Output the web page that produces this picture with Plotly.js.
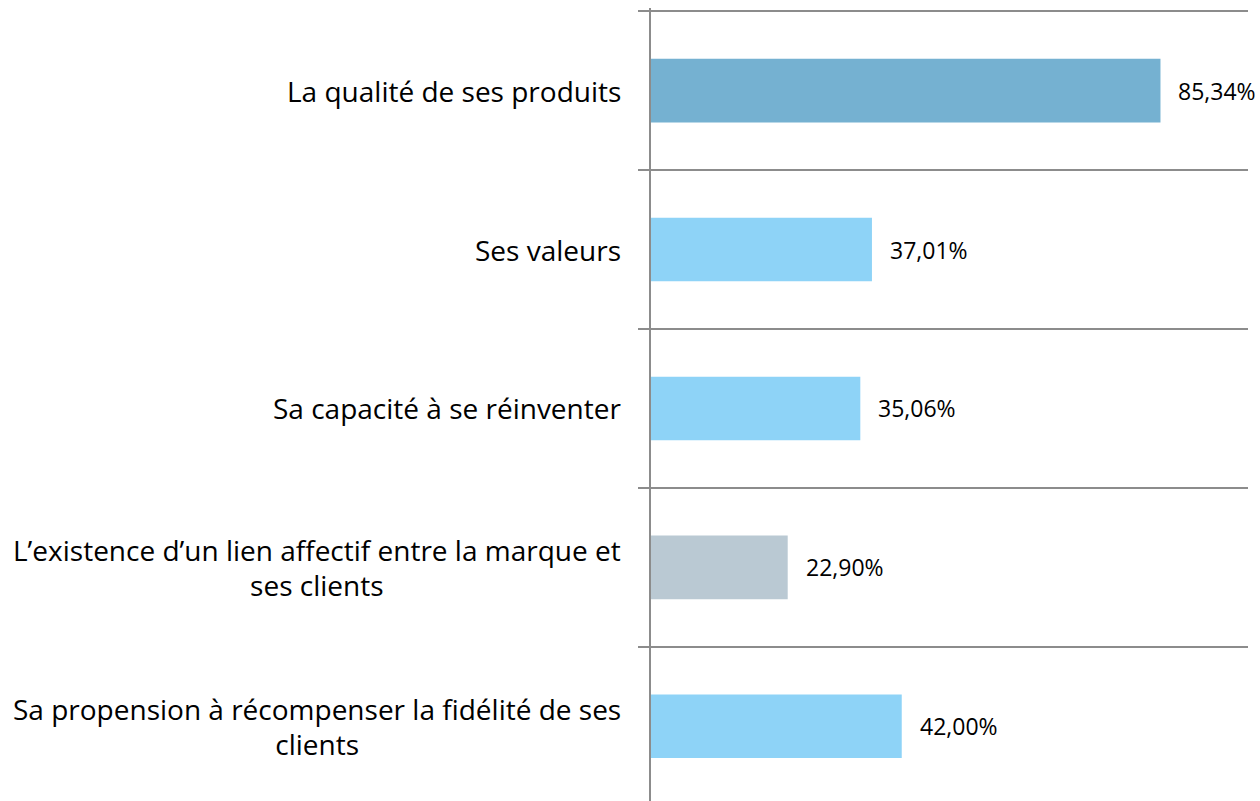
<!DOCTYPE html>
<html>
<head>
<meta charset="utf-8">
<script src="https://cdn.plot.ly/plotly-3.0.1.min.js"></script>
<style>html,body{margin:0;padding:0;background:#fff;}#chart{width:1260px;height:801px;}</style>
</head>
<body>
<div id="chart"></div>
<script>
var categories = [
  "La qualité de ses produits",
  "Ses valeurs",
  "Sa capacité à se réinventer",
  "L’existence d’un lien affectif entre la marque et<br>ses clients",
  "Sa propension à récompenser la fidélité de ses<br>clients"
];
var values = [85.34, 37.01, 35.06, 22.90, 42.00];
var barColors = ["#75B1D1", "#8ED3F7", "#8ED3F7", "#BAC9D3", "#8ED3F7"];

var FONT = "Open Sans, Liberation Sans, sans-serif";
var ids = categories.map(function(c, i){ return "c" + i; });

var trace = {
  type: "bar",
  orientation: "h",
  x: values,
  y: ids,
  width: 0.4,
  marker: {color: barColors},
  hoverinfo: "none"
};

var annotations = [];
categories.forEach(function(c, i){
  annotations.push({
    xref: "paper", yref: "y", x: 0, y: ids[i],
    xanchor: "right", yanchor: "middle", xshift: -28,
    text: "<span style='font-size:28px'>" + c.split("<br>").join("</span><br><span style='font-size:28px'>") + "</span>",
    align: "center", showarrow: false,
    font: {family: FONT, size: 27, color: "#000"}
  });
  annotations.push({
    xref: "x", yref: "y", x: values[i], y: ids[i],
    xanchor: "left", yanchor: "middle", xshift: 16,
    text: values[i].toFixed(2).replace(".", ",") + "%",
    showarrow: false,
    font: {family: FONT, size: 23, color: "#000"}
  });
});

var layout = {
  width: 1260, height: 801,
  margin: {l: 651, r: 12, t: 8, b: 0},
  paper_bgcolor: "#fff", plot_bgcolor: "#fff",
  showlegend: false,
  xaxis: {range: [0, 100], visible: false, fixedrange: true},
  yaxis: {
    type: "category",
    categoryorder: "array", categoryarray: ids,
    range: [4.47, -0.52],
    showticklabels: false,
    tickson: "boundaries",
    ticks: "outside", ticklen: 11, tickwidth: 2, tickcolor: "#8C8C8C",
    showgrid: true, gridcolor: "#8C8C8C", gridwidth: 2,
    showline: true, linecolor: "#8C8C8C", linewidth: 2,
    zeroline: false, fixedrange: true
  },
  annotations: annotations
};

Plotly.newPlot("chart", [trace], layout, {displayModeBar: false, staticPlot: true});
</script>
</body>
</html>
